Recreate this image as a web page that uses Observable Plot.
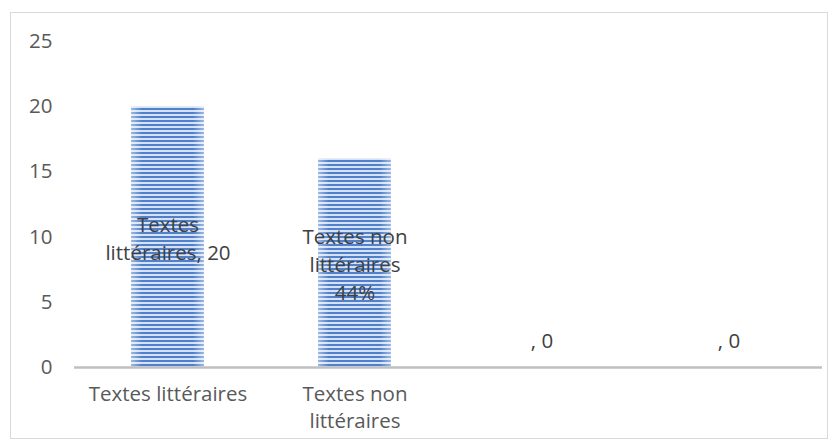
<!DOCTYPE html>
<html>
<head>
<meta charset="utf-8">
<script src="https://cdn.jsdelivr.net/npm/d3@7"></script>
<script src="https://cdn.jsdelivr.net/npm/@observablehq/plot@0.6"></script>
<style>
  body { margin: 0; background: #fff; }
  #wrap { position: relative; width: 839px; height: 447px; }
  #border { position: absolute; left: 10px; top: 12px; width: 818px; height: 427px; border: 1px solid #d9d9d9; box-sizing: border-box; pointer-events: none; }
  svg { font-family: "Open Sans", "Liberation Sans", sans-serif; }
</style>
</head>
<body>
<div id="wrap"><div id="border"></div><div id="chart"></div></div>
<script>
const categories = ["c1", "c2", "c3", "c4"];
const tickLabels = ["Textes littéraires", "Textes non\nlittéraires", "", ""];
const values = [20, 16, 0, 0];
const dataLabels = ["Textes\nlittéraires, 20", "Textes non\nlittéraires\n44%", ", 0", ", 0"];
const yTicks = [0, 5, 10, 15, 20, 25];

const data = categories.map((c, i) => ({cat: c, value: values[i], label: dataLabels[i], tick: tickLabels[i]}));
const nonzero = data.filter(d => d.value > 0);
const zero = data.filter(d => d.value === 0);

const svg = Plot.plot({
  width: 839,
  height: 447,
  marginLeft: 74,
  marginRight: 17,
  marginTop: 41,
  marginBottom: 80,
  style: {fontSize: "20px", color: "#595959", fontFamily: "'Open Sans', 'Liberation Sans', sans-serif"},
  x: {domain: categories, paddingInner: 0.61, paddingOuter: 0.305, axis: null},
  y: {domain: [0, 25], axis: null},
  marks: [
    Plot.barY(data, {x: "cat", y: "value", fill: "url(#stripes)"}),
    Plot.barY(nonzero, {x: "cat", y: "value", fill: "url(#edgeshade)"}),
    Plot.ruleY([0], {stroke: "#bfbfbf", strokeWidth: 2.5}),
    Plot.axisY({ticks: yTicks, tickSize: 0, tickPadding: 22, fill: "#595959", fontSize: 20.5, label: null}),
    Plot.axisX({tickSize: 0, tickPadding: 15, tickFormat: (d) => tickLabels[categories.indexOf(d)], lineHeight: 1.3, fill: "#595959", fontSize: 20.5, label: null, lineAnchor: "top"}),
    Plot.text(nonzero, {x: "cat", y: d => d.value / 2, text: "label", fill: "#404040", fontSize: 20.5, lineHeight: 1.36, lineAnchor: "middle"}),
    Plot.text(zero, {x: "cat", y: "value", text: "label", fill: "#404040", fontSize: 20.5, dy: -26, lineAnchor: "middle"})
  ]
});

const ns = "http://www.w3.org/2000/svg";
const defs = document.createElementNS(ns, "defs");
defs.innerHTML = `
  <pattern id="stripes" patternUnits="userSpaceOnUse" width="8" height="4">
    <rect width="8" height="4" fill="#d6e2f4"/>
    <rect y="0" width="8" height="2" fill="#4f80cc"/>
  </pattern>
  <linearGradient id="edgeshade" x1="0" x2="1" y1="0" y2="0">
    <stop offset="0" stop-color="#ffffff" stop-opacity="0.45"/>
    <stop offset="0.15" stop-color="#ffffff" stop-opacity="0"/>
    <stop offset="0.85" stop-color="#ffffff" stop-opacity="0"/>
    <stop offset="1" stop-color="#ffffff" stop-opacity="0.45"/>
  </linearGradient>`;
svg.insertBefore(defs, svg.firstChild);
document.getElementById("chart").appendChild(svg);
</script>
</body>
</html>
